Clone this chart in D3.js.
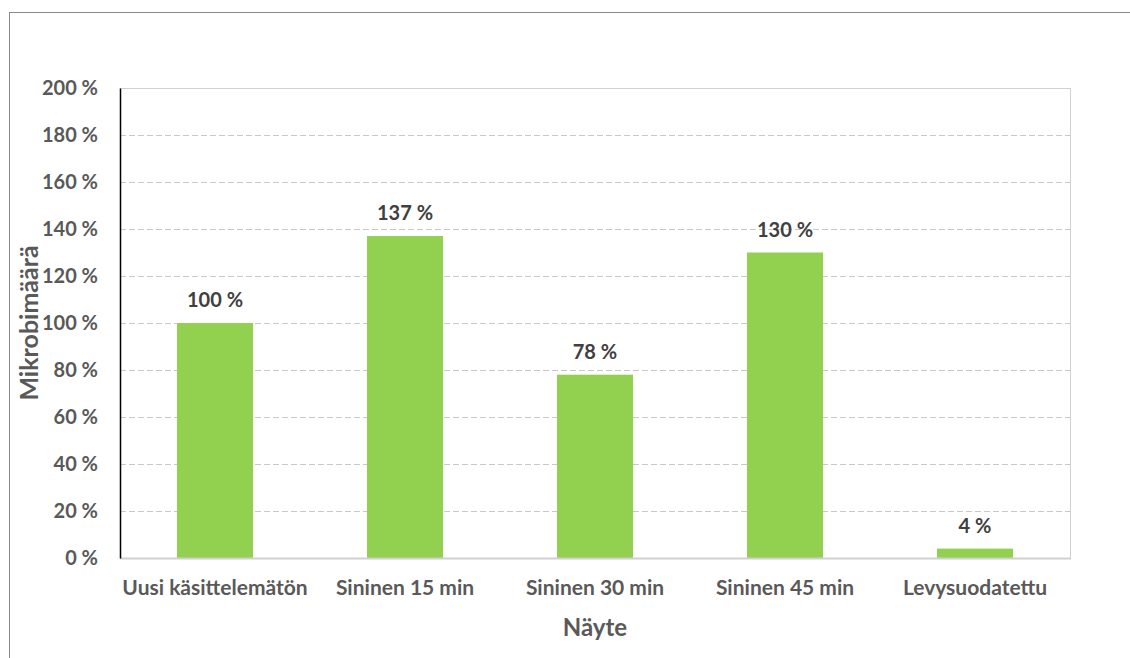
<!DOCTYPE html>
<html><head><meta charset="utf-8">
<script src="https://cdn.jsdelivr.net/npm/d3@7"></script>
<style>body{margin:0;background:#fff}svg{display:block}text{font-family:Lato,"Open Sans",sans-serif;font-weight:bold}</style>
</head><body><svg id="c" width="1130" height="658"></svg>
<script>
const categories = ["Uusi käsittelemätön","Sininen 15 min","Sininen 30 min","Sininen 45 min","Levysuodatettu"];
const values = [100,137,78,130,4];
const valueLabels = ["100 %","137 %","78 %","130 %","4 %"];
const yTicks = [0,20,40,60,80,100,120,140,160,180,200];

const svg = d3.select("#c");
const m = {l:120, r:1070, t:88, b:558};
// outer frame
svg.append("rect").attr("x",9.5).attr("y",12.5).attr("width",1200).attr("height",700)
  .attr("fill","none").attr("stroke","#898989").attr("stroke-width",1);

const x = d3.scaleBand().domain(categories).range([m.l,m.r]).paddingInner(0.6).paddingOuter(0.3);
const y = d3.scaleLinear().domain([0,200]).range([m.b,m.t]);

// grid
svg.append("g").selectAll("line").data(yTicks.filter(d=>d>0 && d<200)).join("line")
  .attr("x1",m.l).attr("x2",m.r).attr("y1",d=>Math.round(y(d))+0.5).attr("y2",d=>Math.round(y(d))+0.5)
  .attr("stroke","#c8c8c8").attr("stroke-dasharray","6,3");
// plot border top/right
svg.append("path").attr("d",`M${m.l},${m.t+0.5}H${m.r+0.5}V${m.b}`).attr("fill","none").attr("stroke","#d0d0d0").attr("stroke-width",1);

// bars
svg.append("g").selectAll("rect").data(values).join("rect")
  .attr("x",(d,i)=>x(categories[i])).attr("width",x.bandwidth())
  .attr("y",d=>y(d)).attr("height",d=>y(0)-y(d)).attr("fill","#92d050");

// value labels
svg.append("g").selectAll("text").data(values).join("text")
  .attr("x",(d,i)=>x(categories[i])+x.bandwidth()/2).attr("y",d=>y(d)-16)
  .attr("text-anchor","middle").attr("font-size",20).attr("fill","#404040")
  .text((d,i)=>valueLabels[i]);

// x axis
svg.append("line").attr("x1",m.l).attr("x2",m.r+1).attr("y1",m.b+0.5).attr("y2",m.b+0.5).attr("stroke","#d0d0d0").attr("stroke-width",2);
const xa = svg.append("g").attr("transform",`translate(0,${m.b})`).call(d3.axisBottom(x).tickSize(0).tickPadding(0));
xa.select(".domain").remove();
xa.selectAll("text").attr("y",37).attr("dy",null).attr("font-size",21).attr("fill","#595959").attr("font-family",null);

// y axis
const ya = svg.append("g").attr("transform",`translate(${m.l},0)`)
  .call(d3.axisLeft(y).tickValues(yTicks).tickSize(0).tickPadding(22).tickFormat(d=>d+" %"));
ya.select(".domain").attr("stroke","#000").attr("stroke-width",1.5);
ya.selectAll("text").attr("font-size",20).attr("fill","#595959").attr("font-family",null);

// titles
svg.append("text").attr("x",595).attr("y",636).attr("text-anchor","middle")
  .attr("font-size",24).attr("fill","#595959").text("Näyte");
svg.append("text").attr("transform",`translate(38,323) rotate(-90)`).attr("text-anchor","middle")
  .attr("font-size",25).attr("fill","#595959").text("Mikrobimäärä");
</script></body></html>
